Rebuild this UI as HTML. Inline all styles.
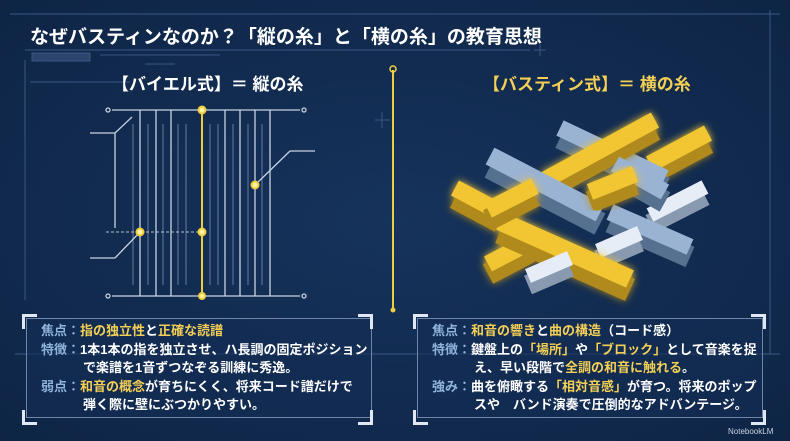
<!DOCTYPE html>
<html><head><meta charset="utf-8">
<style>
body{margin:0;width:790px;height:441px;overflow:hidden;background:#112a4e;font-family:"Liberation Sans","Noto Sans CJK JP",sans-serif;}
.wrap{position:relative;width:790px;height:441px;background:radial-gradient(ellipse at 50% 50%,#16335c 0%,#112a4e 60%,#0e2545 100%);}
.t{position:absolute;white-space:nowrap;font-weight:bold;}
.box{position:absolute;top:318px;width:346px;height:100px;border:1px solid #6f86a8;background:rgba(20,45,85,.6);box-sizing:border-box;padding:3px 0 0 14px;font-size:13px;line-height:18.5px;color:#fff;font-weight:bold;}
.box .k{color:#8fb4dc}
.box .y{color:#f3cf55}
.box .ind{padding-left:42px}
.c{position:absolute;width:12px;height:12px;border-color:#dfe8f4;border-style:solid;}
</style></head><body><div class="wrap">
<svg width="790" height="441" style="position:absolute;left:0;top:0">
<g stroke="#3a5684" stroke-width="1" fill="none">
<line x1="10" y1="14" x2="780" y2="14"/>
<line x1="25" y1="50" x2="530" y2="50"/>
<line x1="540" y1="44" x2="540" y2="56"/><line x1="534" y1="50" x2="546" y2="50"/>
<line x1="30" y1="82" x2="130" y2="82"/>
<rect x="32" y="53" width="58" height="8" fill="#2c456c"/>
<line x1="100" y1="55" x2="220" y2="55"/>
<line x1="145" y1="64" x2="175" y2="64"/>
<line x1="25" y1="60" x2="25" y2="300"/>
<line x1="15" y1="354" x2="780" y2="354"/>
<line x1="770" y1="10" x2="770" y2="354"/>
<line x1="375" y1="120" x2="390" y2="120"/><line x1="382" y1="112" x2="382" y2="128"/>
</g>
<line x1="393" y1="70" x2="393" y2="310" stroke="#f0cd3e" stroke-width="2"/>
<circle cx="393" cy="69" r="3" fill="none" stroke="#f0cd3e" stroke-width="1.5"/>
<circle cx="393" cy="310" r="2.5" fill="#f0cd3e"/>
<g stroke="#7c8fb0" stroke-width="1" opacity=".8">
<line x1="133" y1="124" x2="133" y2="285"/><line x1="148" y1="124" x2="148" y2="285"/><line x1="163" y1="124" x2="163" y2="285"/>
<line x1="178" y1="124" x2="178" y2="285"/><line x1="186" y1="124" x2="186" y2="285"/>
<line x1="210" y1="124" x2="210" y2="285"/><line x1="218" y1="124" x2="218" y2="285"/><line x1="233" y1="124" x2="233" y2="285"/><line x1="248" y1="124" x2="248" y2="285"/><line x1="262" y1="124" x2="262" y2="285"/>
</g>
<g stroke="#c9d2e2" stroke-width="1.3" fill="none">
<line x1="112" y1="110" x2="300" y2="110"/><line x1="112" y1="296" x2="300" y2="296"/>
<circle cx="108" cy="110" r="2"/><circle cx="304" cy="110" r="2"/><circle cx="108" cy="296" r="2"/><circle cx="304" cy="296" r="2"/>
<line x1="140" y1="110" x2="140" y2="296"/><line x1="156" y1="110" x2="156" y2="296"/><line x1="171" y1="110" x2="171" y2="296"/>
<line x1="225" y1="110" x2="225" y2="296"/><line x1="240" y1="110" x2="240" y2="296"/><line x1="255" y1="110" x2="255" y2="296"/><line x1="270" y1="110" x2="270" y2="296"/>
<line x1="90" y1="133" x2="115" y2="133"/><line x1="115" y1="133" x2="132" y2="117"/>
<line x1="115" y1="133" x2="115" y2="228"/>
<line x1="90" y1="258" x2="115" y2="258"/><line x1="115" y1="258" x2="140" y2="232"/>
<line x1="255" y1="185" x2="290" y2="151"/><line x1="290" y1="151" x2="315" y2="151"/>
<line x1="106" y1="232" x2="200" y2="232" stroke-dasharray="3 2" opacity=".7"/>
</g>
<line x1="202" y1="110" x2="202" y2="296" stroke="#f0cd3e" stroke-width="2"/>
<g fill="#fff3a0" stroke="#f0cd3e" stroke-width="2">
<circle cx="202" cy="110" r="3.5"/><circle cx="140" cy="232" r="3.5"/><circle cx="202" cy="232" r="3.5"/><circle cx="255" cy="185" r="3.5"/><circle cx="202" cy="296" r="3"/>
</g>
<defs><filter id="g" x="-30%" y="-30%" width="160%" height="160%"><feGaussianBlur stdDeviation="4" result="b"/><feMerge><feMergeNode in="b"/><feMergeNode in="SourceGraphic"/></feMerge></filter></defs>
<g stroke-linecap="butt">
<g filter="url(#g)"><line x1="650" y1="174" x2="708" y2="143" stroke="#b08a1e" stroke-width="22"/><line x1="650" y1="164" x2="708" y2="133" stroke="#f2c631" stroke-width="17"/></g>
<line x1="560" y1="138" x2="665" y2="188" stroke="#56708f" stroke-width="22"/><line x1="560" y1="128" x2="665" y2="178" stroke="#9bb3d2" stroke-width="17"/>
<g filter="url(#g)"><line x1="545" y1="190" x2="655" y2="130" stroke="#b08a1e" stroke-width="22"/><line x1="545" y1="180" x2="655" y2="120" stroke="#f2c631" stroke-width="17"/></g>
<line x1="650" y1="224" x2="705" y2="196" stroke="#8899b0" stroke-width="20"/><line x1="650" y1="215" x2="705" y2="187" stroke="#e6edf6" stroke-width="15"/>
<line x1="610" y1="222" x2="690" y2="257" stroke="#56708f" stroke-width="22"/><line x1="610" y1="212" x2="690" y2="247" stroke="#9bb3d2" stroke-width="17"/>
<line x1="490" y1="167" x2="600" y2="224" stroke="#56708f" stroke-width="24"/><line x1="490" y1="156" x2="600" y2="213" stroke="#9bb3d2" stroke-width="19"/>
<line x1="615" y1="174" x2="665" y2="202" stroke="#56708f" stroke-width="22"/><line x1="615" y1="164" x2="665" y2="192" stroke="#9bb3d2" stroke-width="17"/>
<g filter="url(#g)"><line x1="590" y1="202" x2="635" y2="184" stroke="#b08a1e" stroke-width="22"/><line x1="590" y1="192" x2="635" y2="174" stroke="#f2c631" stroke-width="17"/></g>
<line x1="598" y1="260" x2="640" y2="242" stroke="#8899b0" stroke-width="20"/><line x1="598" y1="251" x2="640" y2="233" stroke="#e6edf6" stroke-width="15"/>
<g filter="url(#g)">
<line x1="455" y1="198" x2="500" y2="222" stroke="#b08a1e" stroke-width="22"/><line x1="455" y1="188" x2="500" y2="212" stroke="#f2c631" stroke-width="17"/>
<line x1="488" y1="274" x2="530" y2="252" stroke="#b08a1e" stroke-width="22"/><line x1="488" y1="264" x2="530" y2="242" stroke="#f2c631" stroke-width="17"/>
<line x1="500" y1="232" x2="630" y2="290" stroke="#b08a1e" stroke-width="24"/><line x1="500" y1="221" x2="630" y2="279" stroke="#f2c631" stroke-width="19"/>
<line x1="488" y1="220" x2="535" y2="196" stroke="#b08a1e" stroke-width="22"/><line x1="488" y1="210" x2="535" y2="186" stroke="#f2c631" stroke-width="17"/>
</g>
<line x1="528" y1="285" x2="570" y2="267" stroke="#8899b0" stroke-width="20"/><line x1="528" y1="276" x2="570" y2="258" stroke="#e6edf6" stroke-width="15"/>
</g>
</svg>
<div class="t" style="left:30px;top:22px;font-size:19px;color:#fff">なぜバスティンなのか？「縦の糸」と「横の糸」の教育思想</div>
<div class="t" style="left:112px;top:70px;font-size:17px;color:#fff">【バイエル式】＝ 縦の糸</div>
<div class="t" style="left:483px;top:70px;font-size:17px;color:#f3cf55">【バスティン式】＝ 横の糸</div>
<div class="box" style="left:26px">
<div><span class="k">焦点：</span><span class="y">指の独立性</span>と<span class="y">正確な読譜</span></div>
<div><span class="k">特徴：</span>1本1本の指を独立させ、ハ長調の固定ポジション</div>
<div class="ind">で楽譜を1音ずつなぞる訓練に秀逸。</div>
<div><span class="k">弱点：</span><span class="y">和音の概念</span>が育ちにくく、将来コード譜だけで</div>
<div class="ind">弾く際に壁にぶつかりやすい。</div>
</div>
<div class="box" style="left:417px">
<div><span class="k">焦点：</span><span class="y">和音の響き</span>と<span class="y">曲の構造</span>（コード感）</div>
<div><span class="k">特徴：</span>鍵盤上の<span class="y">「場所」</span>や<span class="y">「ブロック」</span>として音楽を捉</div>
<div class="ind">え、早い段階で<span class="y">全調の和音に触れる</span>。</div>
<div><span class="k">強み：</span>曲を俯瞰する<span class="y">「相対音感」</span>が育つ。将来のポップ</div>
<div class="ind">スや　バンド演奏で圧倒的なアドバンテージ。</div>
</div>
<div class="c" style="left:22px;top:314px;border-width:3px 0 0 3px"></div>
<div class="c" style="left:358px;top:314px;border-width:3px 3px 0 0"></div>
<div class="c" style="left:22px;top:410px;border-width:0 0 3px 3px"></div>
<div class="c" style="left:358px;top:410px;border-width:0 3px 3px 0"></div>
<div class="c" style="left:413px;top:314px;border-width:3px 0 0 3px"></div>
<div class="c" style="left:751px;top:314px;border-width:3px 3px 0 0"></div>
<div class="c" style="left:413px;top:410px;border-width:0 0 3px 3px"></div>
<div class="c" style="left:751px;top:410px;border-width:0 3px 3px 0"></div>
<div class="t" style="left:728px;top:427px;font-size:8px;color:#c8d2e0;font-weight:normal">NotebookLM</div>
</div></body></html>
